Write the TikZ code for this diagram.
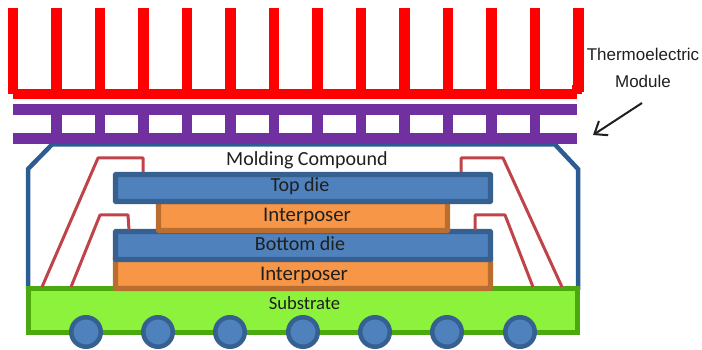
\documentclass[tikz,border=0pt]{standalone}
\usepackage{fontspec}
\setmainfont{Carlito}
\newfontfamily\arialfont{Liberation Sans}
\usetikzlibrary{arrows.meta}
\definecolor{finred}{HTML}{FF0000}
\definecolor{tepurple}{HTML}{7030A0}
\definecolor{pkgblue}{HTML}{2C5C94}
\definecolor{diefill}{HTML}{4F81BD}
\definecolor{dieline}{HTML}{36608F}
\definecolor{orfill}{HTML}{F79646}
\definecolor{orline}{HTML}{B96D2E}
\definecolor{grfill}{HTML}{8CF23C}
\definecolor{grline}{HTML}{4CA80F}
\definecolor{wirered}{HTML}{C0434A}
\tikzset{
  x=1pt,y=-1pt,
  layerbox/.style={rectangle,draw,line width=5.4pt,inner sep=0pt,rounded corners=0.8pt},
  diebox/.style={layerbox,draw=dieline,fill=diefill},
  orbox/.style={layerbox,draw=orline,fill=orfill},
  subbox/.style={layerbox,draw=grline,fill=grfill,rounded corners=0pt},
  ball/.style={circle,draw=dieline,fill=diefill,line width=4.5pt,minimum size=29.5pt,inner sep=0pt},
  wire/.style={draw=wirered,line width=3pt,line join=round},
  pkg/.style={draw=pkgblue,line width=4.5pt,line join=miter},
  lbl/.style={inner sep=0pt,text=black!88,font=\fontsize{20}{22}\selectfont},
  tecap/.style={inner sep=0pt,text=black!88,font=\arialfont\fontsize{17}{20}\selectfont},
}
\begin{document}
\begin{tikzpicture}
\useasboundingbox (0,0) rectangle (702,350);
% package outline
\draw[pkg] (28,290) -- (28,169) -- (52,144.5) -- (555,144.5) -- (578,169) -- (578,290);
% heat sink
\foreach \i in {0,...,13}{
  \fill[finred] ({7.5+43.5*\i},8) rectangle ++(10.8,84);
}
\fill[finred] (13,89.5) rectangle (577,99.5);
\fill[finred] (7.5,85) rectangle (18,94);
\fill[finred] (571.5,85) rectangle (582,94);
% thermoelectric module
\fill[tepurple] (13,104) rectangle (576.7,115);
\fill[tepurple] (13,133) rectangle (576.7,144);
\foreach \i in {1,...,12}{
  \fill[tepurple] ({7.5+43.5*\i},110) rectangle ++(10.8,28);
}
% substrate and balls
\node[subbox,minimum width=549pt,minimum height=44pt] (sub) at (303,310.5) {};
\foreach \n/\cx in {b1/86,b2/158,b3/230,b4/303,b5/375,b6/447,b7/520}{
  \node[ball] (\n) at (\cx,332) {};
}
% stack
\node[orbox,minimum width=375pt,minimum height=31pt] (ipb) at (303,273) {};
\node[diebox,minimum width=375pt,minimum height=28pt] (botdie) at (303,245.5) {};
\node[orbox,minimum width=289pt,minimum height=29pt] (ipt) at (303,216) {};
\node[diebox,minimum width=375pt,minimum height=27pt] (topdie) at (303,188) {};
% labels
\node[lbl] (molding) at (307,160) {Molding Compound};
\node[lbl] (toplabel) at (300,186) {Top die};
\node[lbl,font=\fontsize{20.8}{22}\selectfont] (iptlabel) at (307,217) {Interposer};
\node[lbl] (botlabel) at (300,244) {Bottom die};
\node[lbl,font=\fontsize{20.8}{22}\selectfont] (ipblabel) at (304,276) {Interposer};
\node[lbl,font=\fontsize{18.6}{22}\selectfont] (sublabel) at (304.5,303) {Substrate};
% wires
\coordinate (wa) at (42,287);   \coordinate (wb) at (143,172);
\coordinate (wc) at (71,287);   \coordinate (wd) at (129,230);
\coordinate (we) at (562,287);  \coordinate (wf) at (461,172);
\coordinate (wg) at (533,287);  \coordinate (wh) at (475,230);
\draw[wire] (wa) -- (98,158) -- (143,158) -- (wb);
\draw[wire] (wc) -- (100,215) -- (128,215) -- (wd);
\draw[wire] (we) -- (503,158) -- (461,158) -- (wf);
\draw[wire] (wg) -- (505,215) -- (475,215) -- (wh);
% callout
\node[tecap] (te1) at (643,54) {Thermoelectric};
\node[tecap] (te2) at (643,81) {Module};
\coordinate (arrowstart) at (642,103);
\coordinate (arrowend) at (593,135);
\draw[line width=2pt,black!88,-{Straight Barb[length=11pt,width=17pt,line width=2pt]}] (arrowstart) -- (arrowend);
\end{tikzpicture}
\end{document}
